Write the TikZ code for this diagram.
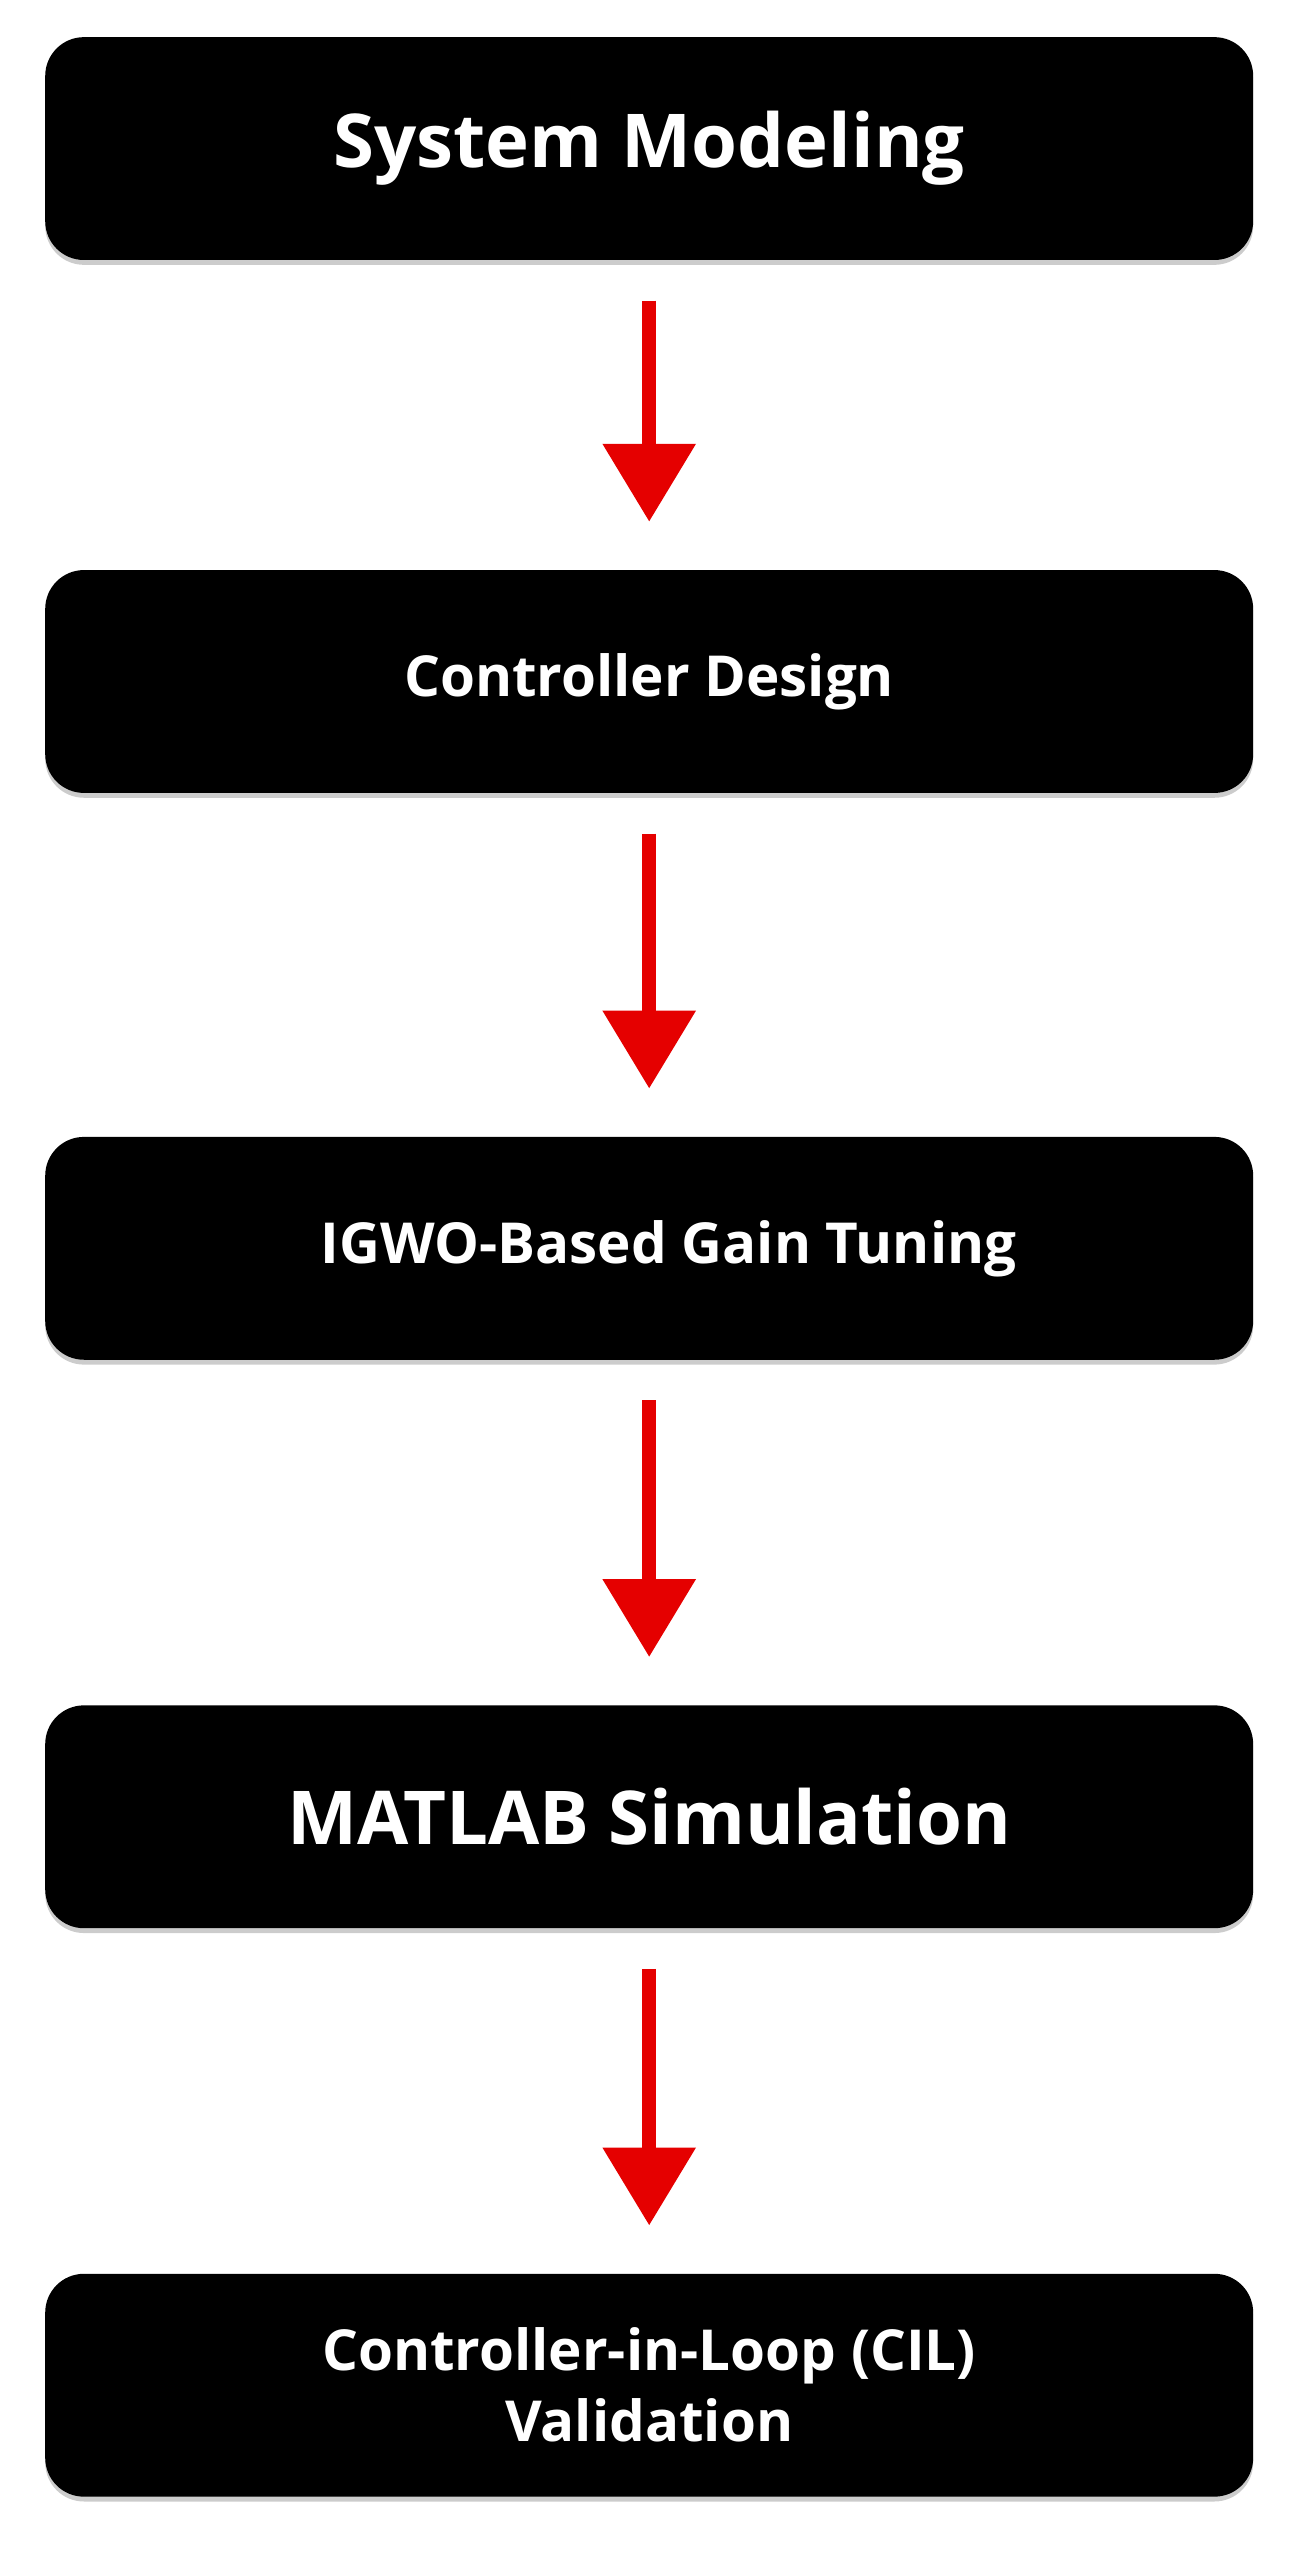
\documentclass[tikz,border=0pt]{standalone}
\usepackage{fontspec}
\setmainfont{Open Sans}
\begin{document}
\begin{tikzpicture}[x=1pt,y=-1pt,
  box/.style={draw=none,fill=black,rounded corners=24pt,minimum width=748pt,minimum height=138pt,
    text=white,font=\bfseries,align=center,inner sep=0pt},
  big/.style={font=\fontsize{46}{50}\selectfont\bfseries},
  small/.style={font=\fontsize{35}{44}\selectfont\bfseries},
  arr/.style={draw=red!90!black,line width=9pt},
  head/.style={fill=red!90!black,draw=none}]
\useasboundingbox (0,0) rectangle (800,1584);
\foreach \y in {92,422,773,1125,1477}{
  \fill[black!20,rounded corners=24pt] (28,\y-66) rectangle (776,\y+72);
}
\node[box,big] (a) at (402,92) {System Modeling};
\node[box,small] (b) at (402,422) {Controller Design};
\node[box,small] (c) at (402,773) {\hspace*{24pt}IGWO-Based Gain Tuning};
\node[box,big] (d) at (402,1125) {MATLAB Simulation};
\node[box,small] (e) at (402,1477) {Controller-in-Loop (CIL)\\Validation};
\foreach \s/\t [count=\i] in {a/b,b/c,c/d,d/e}{
  \coordinate (s\i) at ([yshift=-25pt]\s.south);
  \coordinate (t\i) at ([yshift=30pt]\t.north);
  \draw[arr] (s\i) -- ([yshift=46pt]t\i);
  \fill[head] ([xshift=-29pt,yshift=48pt]t\i) -- ([xshift=29pt,yshift=48pt]t\i) -- (t\i) -- cycle;
}
\end{tikzpicture}
\end{document}
